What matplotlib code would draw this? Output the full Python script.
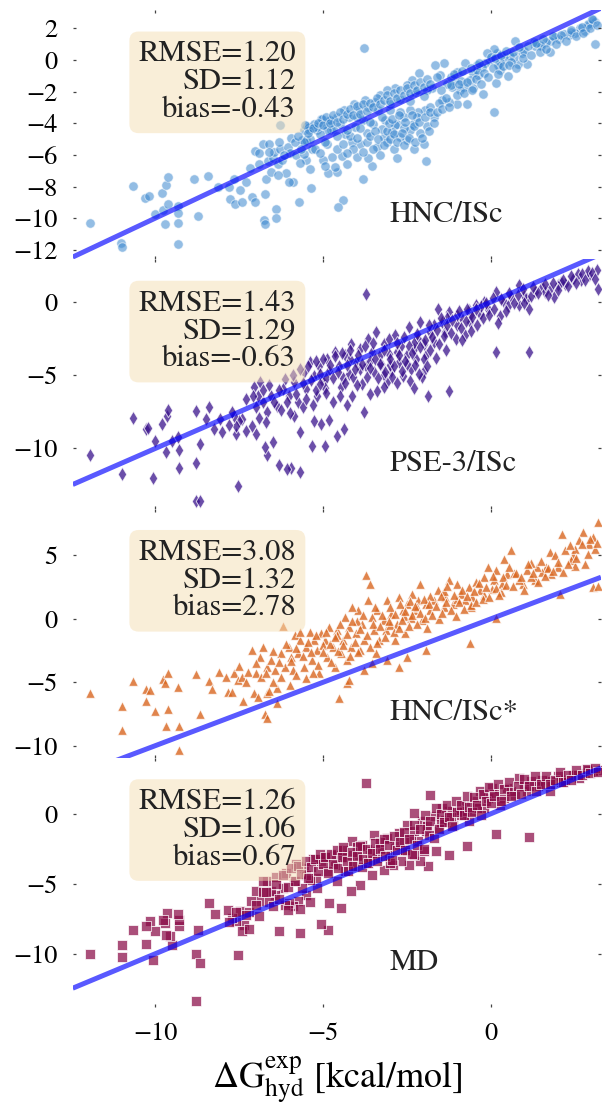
import matplotlib
matplotlib.use("Agg")
import matplotlib.pyplot as plt
import numpy as np

plt.rcParams['font.family'] = ['STIXGeneral', 'DejaVu Serif']
plt.rcParams['mathtext.fontset'] = 'stix'

# ---------------- data ----------------
# Panel 1: HNC/ISc
hnc_pts = [
    (-11.96,-10.3),(-11.02,-11.55),(-11.0,-11.8),(-10.66,-7.95),(-10.3,-8.75),(-10.2,-8.6),
    (-10.0,-9.75),(-9.8,-8.4),(-9.78,-9.5),(-9.72,-10.4),(-9.67,-7.9),(-9.63,-7.4),(-9.63,-9.1),
    (-9.32,-9.25),(-9.32,-9.65),(-9.32,-10.3),(-9.32,-11.65),(-8.85,-7.5),(-8.72,-9.85),(-8.43,-7.35),
    (-8.13,-8.0),(-7.81,-8.05),(-7.78,-8.8),(-7.65,-7.5),(-7.63,-9.1),(-7.48,-8.2),(-7.41,-9.0),
    (-7.31,-7.7),(-7.18,-6.8),(-7.11,-8.65),(-7.03,-9.0),(-7.03,-5.75),(-6.92,-6.6),(-6.8,-5.3),
    (-6.77,-10.1),(-6.74,-8.45),(-6.72,-10.35),(-6.7,-7.5),(-6.64,-6.4),(-6.62,-5.3),(-6.54,-7.1),
    (-6.48,-6.2),(-6.45,-5.8),(-6.4,-9.45),(-6.4,-10.0),(-6.34,-6.55),(-6.27,-5.6),(-6.27,-4.1),
    (-6.22,-6.35),(-6.12,-7.15),(-6.05,-5.5),(-6.0,-5.9),(-5.95,-4.9),(-5.9,-7.7),(-5.82,-6.0),
    (-5.72,-9.0),(-5.62,-5.07),(-5.57,-4.44),(-5.52,-5.03),(-5.52,-6.34),(-5.49,-4.19),(-5.42,-4.23),
    (-5.35,-8.1),(-5.33,-5.6),(-5.23,-5.6),(-5.18,-4.44),(-5.05,-3.7),(-4.93,-4.12),(-4.88,-5.28),
    (-4.85,-7.14),(-4.78,-3.77),(-4.75,-4.44),(-4.58,-7.08),(-4.42,-8.85),(-4.55,-9.3),(-3.8,-7.5),
    (-6.03,-7.71),
    (3.11,2.42),(3.11,1.0),(2.91,2.21),(2.81,1.85),(2.64,2.0),(2.51,1.68),(2.34,1.58),(2.17,1.64),
    (2.02,1.3),(1.92,1.47),(1.75,1.22),(1.77,0.48),(1.65,1.15),(1.47,0.94),(1.32,0.88),(1.27,1.15),
    (1.07,-0.26),(0.92,0.46),(0.82,-0.26),(0.73,1.22),(0.68,0.2),(0.58,0.25),(0.5,-1.02),(0.4,0.1),
    (0.28,-0.11),(0.28,-0.64),(0.18,0.42),(0.08,0.67),(0.16,-1.44),(0.08,-3.28),(-0.02,-0.01),
    (-0.12,0.42),(-0.17,-0.22),(-0.27,-0.47),(-0.24,-2.12),(-0.37,-0.96),(-0.42,-0.32),(-0.52,-0.85),
    (-0.52,-1.8),(-0.62,-1.28),(-0.72,-2.75),(-0.77,-0.22),(-0.81,-1.7),(-0.91,-1.87),(-1.01,-0.75),
    (-1.01,-2.75),(-1.09,-1.28),(-1.16,-1.7),(-1.26,-2.64),(-1.31,-1.49),(-1.41,-0.22),(-1.46,-2.54),
    (-1.51,-0.96),(-1.61,-1.07),(-1.66,-0.32),(-1.71,-3.6),(-1.76,-1.74),(-1.91,-1.91),(-1.93,-6.38),
    (-2.0,-5.28),(-1.96,-3.17),(-2.13,-0.81),(-2.16,-3.28),(-2.26,-2.01),(-2.31,-4.02),(-2.35,-1.27),
    (-2.4,-3.17),(-2.4,-4.44),(-2.5,-5.07),(-2.5,-1.59),(-2.6,-3.6),(-2.7,-3.28),(-2.7,-4.86),
    (-2.7,-2.44),(-2.8,-4.02),(-2.85,-1.74),(-2.85,-4.12),(-2.95,-4.55),(-3.0,-3.17),(-3.1,-1.91),
    (-3.15,-3.81),(-3.2,-4.86),(-3.25,-4.34),(-3.3,-2.22),(-3.35,-3.17),(-3.45,-2.64),(-3.5,-4.02),
    (-3.55,-6.72),(-3.65,-2.97),(-3.65,-6.17),(-3.75,-2.54),(-3.78,0.73),(-3.8,-3.81),(-3.89,-5.29),
    (-3.94,-3.17),(-3.99,-6.13),(-4.04,-4.23),(-4.09,-2.75),(-4.14,-5.18),(-4.24,-3.6),(-4.29,-6.59),
    (-4.34,-4.65),(-4.39,-3.17),(-4.44,-6.07),(-4.49,-4.02),(-4.59,-3.6),(-4.64,-6.76),(-4.69,-4.34),
    (-4.74,-6.13),(-4.79,-3.81),(-4.89,-4.44),(-4.94,-5.18),(-5.04,-3.7),(-5.09,-4.65),(-5.19,-4.23),
    (-5.28,-4.02),(-5.38,-4.97),(-5.43,-4.44),(-5.53,-4.12),(-5.58,-5.18),(-5.58,-5.92),
    (-4.2,-4.8),(-3.7,-4.6),(-3.4,-5.5),(-3.1,-5.2),(-2.9,-5.6),(-2.6,-4.3),(-2.2,-3.6),(-2.1,-4.6),
    (-1.9,-4.2),(-3.0,-2.8),(-3.6,-3.9),(-4.0,-3.6),(-2.4,-2.6),(-2.0,-2.3),(-1.8,-3.0),(-1.5,-1.9),
    (-1.2,-1.1),(-0.9,-1.3),(-0.4,-0.6),(0.2,-0.3),(0.6,-0.1),(1.0,0.6),(1.5,0.9),(2.4,1.8),
    (2.9,2.3),(3.05,2.5),(-4.6,-5.6),(-5.0,-6.3),(-3.3,-6.0),(-2.8,-6.2),(-2.3,-5.6),
    (-5.45,-4.6),(-5.3,-4.3),(-5.15,-4.0),(-5.0,-4.1),(-4.9,-3.6),(-4.8,-4.0),(-4.7,-3.5),(-4.6,-3.9),
    (-4.5,-3.3),(-4.4,-3.7),(-4.3,-3.4),(-4.2,-3.1),(-4.1,-3.5),(-4.0,-2.9),(-3.9,-3.4),(-3.8,-2.8),
    (-3.7,-3.2),(-3.6,-2.7),(-3.5,-3.0),(-3.4,-2.4),(-3.3,-2.8),(-3.2,-2.5),(-3.1,-2.2),(-3.0,-2.6),
    (-2.9,-2.1),(-2.8,-2.4),(-2.7,-1.9),(-2.6,-2.2),(-2.5,-1.8),(-2.4,-2.1),(-2.3,-1.6),(-2.2,-1.9),
    (-2.1,-1.4),(-2.0,-1.7),(-1.9,-1.2),(-1.8,-1.5),
    (-4.6,-4.8),(-4.4,-5.3),(-4.3,-4.4),(-4.1,-5.6),(-4.0,-4.9),(-3.9,-4.3),(-3.8,-5.8),(-3.7,-5.2),
    (-3.6,-4.8),(-3.5,-5.6),(-3.45,-4.5),(-3.35,-5.0),(-3.25,-3.6),(-3.2,-5.4),(-3.1,-4.5),(-3.05,-4.0),
    (-3.0,-5.0),(-2.95,-3.7),(-2.9,-4.7),(-2.8,-5.2),(-2.75,-3.5),(-2.65,-4.6),(-2.6,-5.4),(-2.55,-3.9),
    (-2.45,-4.9),(-2.35,-3.5),(-2.3,-4.2),(-2.25,-5.2),(-2.15,-3.9),(-2.05,-4.9),(-1.95,-3.6),
    (-1.85,-4.5),(-1.8,-3.3),(-1.7,-4.0),(-1.6,-3.3),(-1.55,-2.7),(-1.45,-3.1),(-1.35,-2.4),(-1.25,-3.0),
    (-1.2,-1.6),(-1.1,-0.9),(-1.0,-2.2),(-0.95,-1.5),(-0.85,-0.7),(-0.8,-2.1),(-0.7,-1.4),(-0.6,-0.5),
    (-0.55,-1.9),(-0.45,-1.2),(-0.35,-0.2),(-0.3,-1.5),(-0.2,-0.8),(-0.1,-1.1),(0.0,0.2),(0.05,-0.5),
    (0.12,0.1),(0.22,-0.9),(0.3,0.3),(0.35,-0.4),(0.45,0.6),(0.55,-0.3),(0.65,0.5),(0.75,-0.5),
    (0.85,0.8),(0.95,0.1),(1.1,0.9),(1.2,0.3),(1.35,1.1),(1.45,0.5),(1.55,1.3),(1.65,0.7),(1.85,1.5),
    (1.95,1.0),(2.1,1.6),(2.25,1.2),(2.4,1.9),(2.55,1.5),(2.7,2.1),(2.75,1.7),(2.95,2.0),(3.0,2.6),
    (3.15,2.2),
    (-6.9,-5.9),(-6.6,-5.8),(-6.3,-5.2),(-6.15,-6.0),(-5.85,-5.2),(-5.75,-4.8),(-5.65,-5.6),
    (-5.7,-6.5),(-6.35,-7.3),(-5.1,-5.9),(-4.95,-6.7),(-4.3,-5.9),(-5.4,-6.9),
]

# Panel 2: PSE-3/ISc
pse_pts = [
    (-11.95,-10.45),(-10.99,-11.76),(-10.65,-7.95),(-10.27,-8.68),(-10.21,-8.61),(-10.07,-11.99),
    (-10.01,-9.47),(-9.8,-8.33),(-9.69,-10.27),(-9.64,-7.76),(-9.61,-7.35),(-9.49,-9.47),(-9.32,-9.24),
    (-9.3,-10.09),(-9.3,-11.3),(-8.8,-7.42),(-8.8,-10.96),(-8.68,-9.7),(-8.39,-7.19),(-8.24,-8.67),
    (-8.07,-7.99),(-8.8,-13.58),(-8.68,-13.58),
    (3.15,2.17),(3.2,0.91),(2.91,1.83),(2.68,1.49),(2.45,1.6),(2.22,1.26),(1.99,1.14),(1.76,0.92),
    (1.53,1.03),(1.3,0.69),(1.88,0.34),(1.07,0.23),(0.84,1.14),(1.13,-0.46),(0.84,-0.23),(0.61,0.34),
    (0.38,0.0),(0.14,0.69),(0.26,-0.92),(0.14,-3.42),(1.13,-3.42),(-0.09,-0.46),(-0.2,0.0),
    (-0.32,-0.8),(-0.43,-0.23),(-0.61,-1.37),(-0.66,-0.57),(-0.78,-2.28),(-0.89,-1.03),(-1.01,-1.6),
    (-1.24,-6.05),(-1.24,-0.69),(-1.36,-2.06),(-1.47,-1.37),(-1.59,-0.46),(-1.7,-2.74),(-1.82,-2.06),
    (-1.88,-6.39),(-1.93,-3.65),(-1.99,-4.68),(-2.05,-5.14),(-2.11,-1.37),(-2.16,-2.51),(-2.22,-3.88),
    (-2.28,-3.2),(-2.39,-4.57),(-2.45,-1.71),(-2.51,-3.65),(-2.62,-5.02),(-2.68,-2.97),(-2.74,-4.11),
    (-2.85,-2.28),(-2.97,-4.68),(-3.03,-3.54),(-3.09,-5.48),(-3.2,-2.85),(-3.26,-4.22),(-3.38,-6.05),
    (-3.43,-2.06),(-3.49,-4.79),(-3.55,-3.42),(-3.72,0.57),(-3.66,-2.51),(-3.72,-4.34),(-3.78,-7.53),
    (-3.84,-5.59),(-3.89,-3.2),(-4.01,-4.11),(-4.13,-6.39),(-4.18,-2.85),(-4.24,-4.91),(-4.36,-3.65),
    (-4.38,-8.67),(-4.47,-5.82),(-4.53,-4.34),(-4.59,-9.13),(-4.64,-3.42),(-4.7,-6.85),(-4.82,-8.04),
    (-4.82,-4.68),(-4.87,-3.88),(-4.94,-9.81),(-5.0,-5.48),(-5.11,-4.34),(-5.17,-6.39),(-5.28,-8.1),
    (-5.28,-5.02),(-5.34,-9.81),(-5.4,-4.11),(-5.51,-5.93),(-5.57,-4.79),(-5.68,-8.9),(-5.68,-11.64),
    (-5.74,-6.85),(-5.86,-7.76),(-5.86,-5.48),(-5.97,-11.3),(-6.03,-6.39),(-6.09,-11.42),(-6.09,-6.85),
    (-6.14,-5.25),(-6.2,-5.93),(-6.32,-11.14),(-6.37,-7.08),(-6.49,-9.59),(-6.55,-6.39),(-6.66,-10.45),
    (-6.66,-7.53),(-6.69,-8.21),(-6.72,-9.93),(-6.78,-6.85),(-6.89,-5.48),(-6.95,-6.39),(-7.01,-9.0),
    (-7.07,-5.82),(-7.1,-6.39),(-7.13,-8.44),(-7.3,-8.79),(-7.41,-7.99),(-7.5,-8.1),(-7.53,-12.56),
    (-7.59,-9.0),(-7.59,-8.44),(-7.65,-7.76),(-7.7,-7.53),
    (-4.2,-3.9),(-3.9,-4.6),(-3.6,-4.0),(-3.3,-3.6),(-3.0,-4.3),(-2.8,-3.4),(-2.5,-4.2),(-2.3,-2.8),
    (-2.0,-2.9),(-1.7,-1.6),(-1.3,-1.1),(-1.0,-0.9),(-0.6,-0.8),(-0.3,-0.3),(0.5,-0.3),(1.0,0.4),
    (1.6,0.7),(2.1,1.4),(2.6,1.9),(2.9,2.1),(-4.9,-5.2),(-5.2,-6.0),(-4.4,-5.2),(-3.2,-5.0),
    (-5.9,-5.0),(-5.7,-4.6),(-5.6,-5.5),(-5.45,-4.4),(-5.35,-5.3),(-5.2,-4.0),(-5.1,-4.9),(-5.0,-3.9),
    (-4.95,-5.9),(-4.8,-4.3),(-4.7,-5.2),(-4.65,-3.7),(-4.55,-4.8),(-4.45,-3.5),(-4.35,-5.5),
    (-4.3,-4.3),(-4.2,-3.3),(-4.1,-5.1),(-4.05,-4.6),(-3.95,-3.6),(-3.85,-4.2),(-3.75,-3.0),(-3.7,-5.1),
    (-3.6,-4.5),(-3.5,-2.8),(-3.45,-3.9),(-3.35,-5.2),(-3.3,-4.2),(-3.2,-3.3),(-3.15,-4.8),(-3.05,-2.5),
    (-3.0,-3.9),(-2.95,-5.1),(-2.9,-4.4),(-2.8,-2.8),(-2.75,-3.6),(-2.65,-4.7),(-2.6,-2.4),(-2.55,-4.0),
    (-2.45,-3.0),(-2.4,-5.4),(-2.35,-3.5),(-2.25,-4.3),(-2.2,-2.2),(-2.15,-4.9),(-2.1,-3.1),(-2.0,-3.9),
    (-1.95,-2.6),(-1.9,-4.4),(-1.85,-1.6),(-1.8,-3.3),(-1.75,-2.4),(-1.65,-3.8),(-1.6,-1.9),(-1.55,-2.9),
    (-1.5,-1.1),(-1.4,-2.3),(-1.35,-3.3),(-1.3,-1.6),(-1.2,-2.1),(-1.15,-1.2),(-1.05,-2.5),(-0.95,-0.6),
    (-0.9,-1.8),(-0.85,-2.6),(-0.75,-1.3),(-0.7,-0.5),(-0.6,-2.0),(-0.55,-1.0),(-0.45,-0.5),(-0.4,-1.6),
    (-0.25,-1.1),(-0.15,-0.1),(-0.05,-0.9),(0.05,0.3),(0.1,-0.5),(0.2,-1.4),(0.3,0.2),(0.45,-0.6),
    (0.55,0.6),(0.7,-0.1),(0.8,0.5),(0.95,0.9),(1.0,-0.1),(1.2,0.4),(1.25,1.0),(1.4,0.6),(1.6,1.2),
    (1.7,0.5),(1.85,1.3),(2.0,0.8),(2.15,1.5),(2.3,1.1),(2.4,1.8),(2.55,1.3),(2.7,1.9),(2.8,1.5),
    (3.0,2.0),(3.1,1.6),
    (-6.8,-6.0),(-6.6,-5.7),(-6.45,-6.8),(-6.3,-6.0),(-6.25,-7.4),(-6.0,-7.6),(-5.8,-6.3),(-5.6,-7.2),
    (-5.5,-6.6),(-5.3,-7.0),(-5.1,-5.6),(-5.05,-8.3),(-4.9,-6.2),(-4.5,-6.4),(-4.3,-7.0),(-4.0,-5.7),
    (-3.6,-6.3),(-3.2,-5.8),(-2.8,-5.5),(-2.3,-5.9),(-7.3,-6.6),(-7.0,-7.2),(-6.9,-7.9),(-7.8,-8.4),
    (-8.0,-8.9),(-8.5,-8.0),
]

# Panel 3: HNC/ISc*
hncs_pts = [
    (-11.95,-5.81),(-10.99,-6.86),(-10.99,-8.74),(-10.65,-4.89),(-10.27,-5.55),(-10.15,-5.6),
    (-10.27,-6.47),(-10.01,-7.3),(-9.78,-4.76),(-9.72,-5.02),(-9.61,-4.29),(-9.69,-8.48),(-9.61,-7.12),
    (-9.32,-5.39),(-9.3,-8.43),(-9.3,-10.37),(-8.8,-4.34),(-8.66,-7.51),(-8.39,-4.89),(-8.1,-4.16),
    (-7.82,-5.73),(-7.7,-5.73),(-7.65,-4.29),(-7.53,-4.82),(-7.41,-4.56),(-7.3,-4.95),(-7.24,-4.16),
    (-7.38,-6.47),(-7.07,-5.81),(-6.95,-6.13),(-6.74,-7.49),(-6.68,-7.83),(-6.68,-5.81),(-6.66,-3.77),
    (-6.55,-3.25),(-6.37,-6.6),(-6.37,-5.47),(-6.2,-0.58),(-5.85,-1.28),(-4.53,-6.26),(-3.72,3.43),
    (-3.6,2.77),(-0.63,-1.88),(3.03,2.51),(3.2,2.56),(3.2,7.6),
    (3.03,6.44),(2.91,5.92),(2.74,6.84),(2.63,6.18),(2.45,5.0),(2.39,4.61),(2.22,5.39),(2.11,6.7),
    (1.99,4.09),(1.76,5.26),(1.65,4.09),(1.53,3.69),(1.36,4.09),(1.3,3.04),(1.18,3.3),(1.07,3.82),
    (0.95,2.78),(0.84,3.04),(0.61,5.39),(0.49,3.56),(0.38,4.74),(0.32,2.78),(0.14,3.82),(0.09,3.04),
    (0.03,2.38),(-0.09,4.09),(-0.2,3.3),(-0.32,2.25),(-0.43,2.9),(-0.55,1.73),(-0.66,2.51),(-0.78,1.47),
    (-0.89,1.99),(-1.01,2.78),(-1.12,1.21),(-1.24,3.04),(-1.36,1.73),(-1.41,0.94),(-1.59,2.25),
    (-1.7,1.47),(-1.82,0.68),(-1.93,1.21),(-2.05,-0.1),(-2.11,2.78),(-2.16,1.47),(-2.28,0.68),
    (-2.34,1.99),(-2.39,0.03),(-2.51,1.21),(-2.57,-1.15),(-2.62,0.68),(-2.74,1.73),(-2.8,-0.37),
    (-2.85,-1.67),(-2.97,0.42),(-3.09,1.47),(-3.14,-0.89),(-3.2,-0.1),(-3.32,-1.67),(-3.38,0.68),
    (-3.43,-2.72),(-3.49,-0.89),(-3.55,0.16),(-3.66,1.47),(-3.78,-1.67),(-3.84,-0.37),(-3.89,-2.46),
    (-3.95,0.68),(-4.01,-1.15),(-4.13,0.94),(-4.18,-2.2),(-4.24,-0.63),(-4.3,-3.24),(-4.36,0.16),
    (-4.41,-1.67),(-4.47,-2.72),(-4.59,-0.89),(-4.64,-3.77),(-4.7,-2.2),(-4.82,-0.63),(-4.87,-2.98),
    (-4.93,-1.67),(-5.05,-1.15),(-5.11,-4.29),(-5.17,-2.46),(-5.28,-1.67),(-5.34,-3.24),(-5.4,-1.02),
    (-5.51,-2.2),(-5.57,-3.77),(-5.68,-1.67),(-5.74,-2.72),(-5.91,-4.03),(-5.97,-2.98),(-6.03,-2.2),
    (-6.14,-3.77),(-6.26,-2.72),(-6.43,-4.03),(-6.78,-2.2),(-6.89,-2.98),(-7.01,-4.29),(-7.13,-2.46),
    (-1.93,-2.46),(-2.51,-2.98),(-2.74,-3.77),(-3.09,-3.24),(-3.55,-3.51),(-4.3,-5.08),(-4.24,-4.82),
    (-3.78,-4.03),(0.14,0.03),(2.05,1.99),
    (-3.0,-0.5),(-2.6,0.2),(-2.2,0.9),(-1.8,1.8),(-1.4,2.2),(-1.0,1.6),(-0.6,0.9),(-0.2,1.9),
    (0.3,2.1),(0.7,3.6),(1.2,4.4),(1.8,3.5),(2.5,4.2),(2.9,5.1),(-4.0,-0.2),(-4.6,-1.3),(-5.0,-2.1),
    (-6.5,-2.5),(-6.3,-3.4),(-6.1,-2.0),(-5.95,-3.3),(-5.8,-2.3),(-5.7,-1.0),(-5.6,-2.9),(-5.45,-1.8),
    (-5.35,-2.6),(-5.2,-1.3),(-5.15,-3.6),(-5.0,-2.6),(-4.9,-1.0),(-4.8,-2.0),(-4.75,-3.4),(-4.65,-1.4),
    (-4.55,-2.5),(-4.5,-0.4),(-4.4,-2.1),(-4.3,-1.2),(-4.2,-2.9),(-4.15,-0.2),(-4.05,-1.8),(-3.95,-2.6),
    (-3.9,-0.8),(-3.8,0.3),(-3.7,-1.3),(-3.6,-2.2),(-3.5,-0.4),(-3.45,0.9),(-3.4,-1.9),(-3.3,-0.6),
    (-3.25,0.3),(-3.15,-1.4),(-3.05,-0.2),(-3.0,0.9),(-2.9,-1.0),(-2.85,0.4),(-2.75,-0.7),(-2.7,1.2),
    (-2.65,-0.1),(-2.55,0.6),(-2.45,-0.6),(-2.4,1.4),(-2.35,0.3),(-2.25,1.0),(-2.2,-0.4),(-2.1,0.5),
    (-2.0,1.6),(-1.95,0.1),(-1.9,-0.7),(-1.85,1.2),(-1.75,0.3),(-1.65,1.0),(-1.55,0.0),(-1.5,1.8),
    (-1.45,0.5),(-1.35,1.3),(-1.3,2.6),(-1.2,0.7),(-1.1,1.9),(-1.05,0.2),(-0.95,1.3),(-0.85,2.3),
    (-0.8,0.8),(-0.7,1.8),(-0.6,1.1),(-0.5,2.2),(-0.45,1.3),(-0.35,2.8),(-0.25,1.6),(-0.15,2.5),
    (-0.05,1.7),(0.05,3.4),(0.15,2.4),(0.25,1.9),(0.35,3.3),(0.45,2.7),(0.55,4.1),(0.65,2.6),(0.75,3.6),
    (0.9,3.3),(1.0,2.3),(1.1,4.3),(1.25,3.6),(1.4,2.9),(1.5,4.6),(1.6,3.4),(1.7,4.0),(1.85,3.8),
    (1.9,5.0),(2.0,4.5),(2.15,3.7),(2.3,4.3),(2.5,5.5),(2.55,4.8),(2.7,5.9),(2.8,4.3),(2.95,6.3),
    (3.1,5.5),(3.15,6.0),(2.35,5.8),
    (-7.0,-3.5),(-6.85,-4.6),(-6.7,-4.3),(-6.5,-5.0),(-6.25,-4.6),(-6.0,-5.2),(-5.8,-4.4),(-5.5,-4.7),
    (-5.3,-4.3),(-7.5,-3.7),(-7.9,-4.6),(-8.3,-5.5),(-6.6,-5.7),
]

# Panel 4: MD
md_pts = [
    (3.2,3.14),(3.03,3.02),(2.8,2.9),(2.63,2.55),(2.45,2.79),(2.22,2.43),(1.99,2.67),(1.76,2.31),
    (1.76,1.6),(1.53,2.43),(1.41,1.95),(1.18,2.31),(1.07,1.6),(1.13,-1.69),(0.84,2.55),(0.72,1.36),
    (0.49,1.83),(0.38,1.12),(0.26,0.64),(0.14,-1.45),(0.03,1.83),(-0.09,1.12),(-0.2,0.4),(-0.32,1.6),
    (-0.43,0.88),(-0.55,0.17),(-0.66,-0.55),(-0.72,-2.33),(-0.78,0.64),(-0.89,-0.07),(-1.01,0.29),
    (-1.12,-0.79),(-1.24,-2.93),(-1.24,0.17),(-1.36,-0.43),(-1.47,0.4),(-1.59,-1.02),(-1.64,-2.69),
    (-1.7,-0.19),(-1.82,1.36),(-1.88,-3.76),(-1.93,-1.26),(-1.99,-2.69),(-2.05,-0.55),(-2.11,-3.4),
    (-2.16,-1.98),(-2.28,0.05),(-2.28,-2.93),(-2.39,-1.74),(-2.45,-3.64),(-2.51,-0.79),(-2.57,-2.69),
    (-2.68,-3.4),(-2.74,-1.38),(-2.85,-2.21),(-2.91,-3.64),(-3.03,-2.93),(-3.09,-1.74),(-3.2,-4.0),
    (-3.26,-2.45),(-3.38,-3.17),(-3.49,-1.5),(-3.55,-4.36),(-3.6,-2.69),(-3.72,2.19),(-3.72,-3.52),
    (-3.84,-2.21),(-3.89,-5.07),(-3.95,-2.93),(-4.07,-3.76),(-4.13,-1.98),(-4.18,-5.55),(-4.24,-2.93),
    (-4.36,-4.12),(-4.47,-6.74),(-4.47,-3.17),(-4.59,-4.83),(-4.64,-3.64),(-4.7,-2.93),(-4.82,-6.38),
    (-4.84,-8.29),(-4.87,-4.12),(-5.05,-3.4),(-5.07,-7.88),(-5.17,-5.31),(-5.22,-4.6),(-5.39,-4.71),
    (-5.51,-5.79),(-5.57,-3.88),(-5.63,-5.31),(-5.68,-8.52),(-5.74,-6.26),(-5.86,-4.83),(-5.91,-6.62),
    (-6.03,-6.38),(-6.14,-6.5),(-6.2,-5.31),(-6.32,-8.36),(-6.43,-5.79),(-6.55,-5.55),(-6.66,-4.79),
    (-6.78,-4.83),(-6.89,-6.26),(-7.01,-5.55),(-7.15,-6.26),(-7.36,-7.93),(-7.41,-8.4),(-7.47,-6.98),
    (-7.53,-10.07),(-7.59,-7.69),(-7.7,-7.45),(-7.82,-6.86),(-8.22,-7.17),(-8.39,-6.38),(-8.74,-8.29),
    (-8.8,-10.02),(-8.68,-10.67),(-8.8,-13.36),(-9.3,-8.05),(-9.3,-7.57),(-9.32,-7.17),(-9.49,-9.36),
    (-9.55,-8.76),(-9.64,-7.1),(-9.69,-8.64),(-9.72,-7.81),(-9.78,-7.57),(-10.01,-8.4),(-10.07,-10.43),
    (-10.15,-7.64),(-10.27,-8.05),(-10.27,-9.31),(-10.65,-8.29),(-10.99,-9.36),(-10.99,-10.24),
    (-11.95,-10.02),
    (-6.4,-4.5),(-6.1,-4.2),(-5.8,-3.6),(-5.3,-3.2),(-4.9,-3.0),(-4.4,-2.6),(-4.0,-2.4),(-3.6,-3.3),
    (-3.3,-2.0),(-3.0,-3.5),(-2.6,-2.0),(-2.3,-1.2),(-1.9,-0.9),(-1.5,-0.6),(-1.2,-0.2),(-0.8,0.2),
    (-0.4,0.4),(0.1,1.4),(0.6,1.6),(1.0,2.0),(1.6,2.1),(2.1,2.3),(2.6,2.8),(2.9,3.1),(-5.5,-4.4),
    (-6.8,-5.6),(-7.2,-7.0),
    (-6.4,-5.0),(-6.2,-4.4),(-6.05,-5.2),(-5.95,-3.9),(-5.85,-4.8),(-5.75,-3.7),(-5.65,-4.3),(-5.5,-3.4),
    (-5.45,-4.6),(-5.35,-3.8),(-5.25,-3.2),(-5.15,-4.1),(-5.1,-2.9),(-5.0,-3.6),(-4.95,-3.1),(-4.85,-4.2),
    (-4.75,-2.9),(-4.7,-3.6),(-4.6,-2.6),(-4.55,-3.9),(-4.45,-3.1),(-4.4,-2.4),(-4.3,-3.4),(-4.25,-4.1),
    (-4.15,-2.7),(-4.1,-3.7),(-4.0,-3.0),(-3.9,-2.3),(-3.85,-3.8),(-3.8,-3.2),(-3.7,-2.5),(-3.65,-3.5),
    (-3.55,-2.8),(-3.45,-2.1),(-3.4,-3.4),(-3.3,-2.5),(-3.2,-1.8),(-3.15,-3.0),(-3.05,-2.2),(-2.95,-3.3),
    (-2.9,-1.6),(-2.8,-2.6),(-2.7,-2.0),(-2.6,-1.3),(-2.55,-2.6),(-2.45,-1.8),(-2.35,-2.9),(-2.3,-0.8),
    (-2.2,-2.2),(-2.1,-1.1),(-2.0,-2.5),(-1.95,-0.1),(-1.85,-1.5),(-1.8,-0.5),(-1.7,-1.7),(-1.65,0.4),
    (-1.55,-1.1),(-1.5,0.0),(-1.4,-0.6),(-1.3,0.6),(-1.25,-0.2),(-1.15,-0.9),(-1.05,0.9),(-1.0,0.1),
    (-0.9,0.6),(-0.8,-0.1),(-0.7,1.3),(-0.65,0.5),(-0.55,0.1),(-0.5,1.2),(-0.4,0.6),(-0.3,-0.1),
    (-0.25,1.4),(-0.15,0.9),(-0.05,1.9),(0.0,0.8),(0.1,1.3),(0.2,2.1),(0.3,0.9),(0.4,1.8),(0.55,2.3),
    (0.6,1.3),(0.8,2.0),(0.9,1.4),(1.0,2.5),(1.15,2.0),(1.3,2.7),(1.35,1.6),(1.5,2.1),(1.65,2.7),
    (1.75,2.1),(1.9,2.4),(2.05,3.0),(2.15,2.3),(2.3,2.8),(2.4,2.4),(2.55,3.1),(2.7,2.8),(2.85,3.2),
    (2.95,2.9),(3.1,3.3),(3.2,3.0),
    (-7.0,-6.5),(-6.9,-7.3),(-6.7,-5.6),(-6.6,-6.3),(-6.5,-6.6),(-6.3,-6.1),(-7.3,-7.2),(-7.6,-7.0),
    (-7.8,-7.7),(-7.2,-8.2),(-6.05,-6.9),(-5.7,-6.8),(-5.4,-6.3),
]

labels = ["HNC/ISc", "PSE-3/ISc", "HNC/ISc*", "MD"]
rmse = [1.20, 1.43, 3.08, 1.26]
sd = [1.12, 1.29, 1.32, 1.06]
bias = ["-0.43", "-0.63", "2.78", "0.67"]
all_pts = [hnc_pts, pse_pts, hncs_pts, md_pts]

markers = ['o', 'd', '^', 's']
colors = ['#3a87cf', '#3a138c', '#d9661f', '#8a0b47']
alphas = [0.55, 0.75, 0.8, 0.72]
sizes = [46, 52, 48, 42]

xlim = (-12.46, 3.28)
ylims = [(-12.6, 3.16), (-14.1, 2.92), (-10.95, 8.7), (-13.8, 4.0)]
yticks = [[2, 0, -2, -4, -6, -8, -10, -12], [0, -5, -10], [5, 0, -5, -10], [0, -5, -10]]

fig = plt.figure(figsize=(6.04, 11.04), dpi=100)
gs = fig.add_gridspec(4, 1, left=0.1204, right=0.995, top=0.9909, bottom=0.0879, hspace=0)
axes = [fig.add_subplot(gs[i]) for i in range(4)]

for i, ax in enumerate(axes):
    pts = np.array(all_pts[i])
    ax.scatter(pts[:, 0], pts[:, 1], s=sizes[i], marker=markers[i], c=colors[i],
               alpha=alphas[i], edgecolors='white', linewidths=0.7, zorder=1)
    ax.plot(xlim, xlim, color='b', alpha=0.65, lw=3.6, zorder=2, solid_capstyle='butt')
    ax.set_xlim(xlim)
    ax.set_ylim(ylims[i])
    ax.set_yticks(yticks[i])
    ax.set_xticks([-10, -5, 0])
    for sp in ax.spines.values():
        sp.set_visible(False)
    ax.tick_params(direction='in', length=2.5, width=0.9, color='#444444',
                   top=True, right=True, labelsize=19, pad=11)
    if i < 3:
        ax.tick_params(labelbottom=False)
    txt = "RMSE=%.2f\nSD=%.2f\nbias=%s" % (rmse[i], sd[i], bias[i])
    ax.text(0.423, 0.877, txt, transform=ax.transAxes, ha='right', va='top',
            fontsize=22, linespacing=1.0, color='#222222', zorder=3,
            bbox=dict(boxstyle='round,pad=0.3', facecolor='wheat', alpha=0.5, edgecolor='none'))
    ax.text(0.6, 0.15, labels[i], transform=ax.transAxes, fontsize=22, color='#222222')

axes[-1].set_xlabel(r"$\Delta \mathrm{G}_{\mathrm{hyd}}^{\mathrm{exp}}$ [kcal/mol]", fontsize=26, labelpad=6)

fig.savefig("out.png", dpi=100)
